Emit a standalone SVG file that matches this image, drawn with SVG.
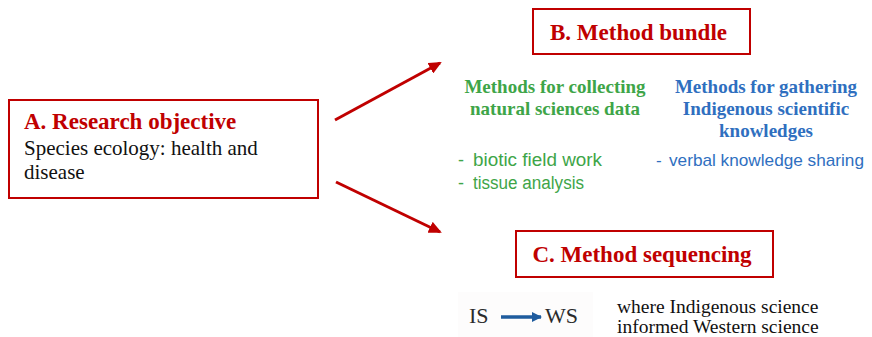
<svg xmlns="http://www.w3.org/2000/svg" width="872" height="337" viewBox="0 0 872 337">
<style>
.box{fill:#fff;stroke:#c00000;stroke-width:2}
.title{font-family:"Liberation Serif","Times New Roman",serif;font-weight:bold;fill:#c00000;font-size:23px}
.txt{font-family:"Liberation Serif","Times New Roman",serif;fill:#111;font-size:21px}
.gh{font-family:"Liberation Serif","Times New Roman",serif;font-weight:bold;fill:#3ea548;font-size:19px;text-anchor:middle}
.bh{font-family:"Liberation Serif","Times New Roman",serif;font-weight:bold;fill:#2f6fbf;font-size:19px;text-anchor:middle}
.gl{font-family:"Liberation Sans",Arial,sans-serif;fill:#3ea548;font-size:18px}
.bl{font-family:"Liberation Sans",Arial,sans-serif;fill:#2f6fbf;font-size:17px}
.note{font-family:"Liberation Serif","Times New Roman",serif;fill:#111;font-size:19.5px}
.seq{font-family:"Liberation Serif","Times New Roman",serif;fill:#2b2b2b;font-size:22px}
.conn{stroke:#c00000;stroke-width:3;fill:none}
</style>
<defs>
<marker id="ah" markerWidth="13" markerHeight="12" refX="11" refY="6" orient="auto" markerUnits="userSpaceOnUse" viewBox="0 0 13 12">
<path d="M0,0 L13,6 L0,12 z" fill="#c00000"/>
</marker>
<marker id="bh" viewBox="0 0 10 10" refX="9" refY="5" markerWidth="12" markerHeight="10" orient="auto" markerUnits="userSpaceOnUse">
<path d="M0,0 L10,5 L0,10 z" fill="#1f5c9e"/>
</marker>
</defs>
<rect width="872" height="337" fill="#fff"/>
<g id="nodeA">
<rect class="box" x="9" y="100" width="309" height="98"/>
<text class="title" x="24" y="129">A. Research objective</text>
<text class="txt" x="24" y="155">Species ecology: health and</text>
<text class="txt" x="24" y="179">disease</text>
</g>
<g id="nodeB">
<rect class="box" x="533" y="9" width="217" height="45"/>
<text class="title" x="638.5" y="40" text-anchor="middle">B. Method bundle</text>
</g>
<g id="bundle-natural">
<text class="gh" x="555" y="93">Methods for collecting</text>
<text class="gh" x="555" y="115">natural sciences data</text>
<text class="gl" x="458" y="166">-</text>
<text class="gl" x="473" y="166" textLength="129" lengthAdjust="spacingAndGlyphs">biotic field work</text>
<text class="gl" x="458" y="189">-</text>
<text class="gl" x="473" y="189" textLength="111" lengthAdjust="spacingAndGlyphs">tissue analysis</text>
</g>
<g id="bundle-indigenous">
<text class="bl" x="656" y="166" font-size="18">-</text>
<text class="bl" x="669" y="166" textLength="195" lengthAdjust="spacingAndGlyphs">verbal knowledge sharing</text>
<text class="bh" x="766" y="93">Methods for gathering</text>
<text class="bh" x="766" y="115">Indigenous scientific</text>
<text class="bh" x="766" y="137">knowledges</text>
</g>
<g id="nodeC">
<rect class="box" x="516" y="231" width="257" height="46"/>
<text class="title" x="642" y="262" text-anchor="middle">C. Method sequencing</text>
</g>
<g id="sequence">
<rect x="458" y="292" width="135" height="45" fill="#fdfcfc"/>
<text class="seq" x="469" y="323">IS</text>
<line x1="501" y1="317" x2="541" y2="317" stroke="#1f5c9e" stroke-width="3.5" marker-end="url(#bh)"/>
<text class="seq" x="545" y="323">WS</text>
<text class="note" x="617" y="313">where Indigenous science</text>
<text class="note" x="617" y="333">informed Western science</text>
</g>
<g id="connectors">
<line class="conn" x1="335" y1="120" x2="440" y2="63" marker-end="url(#ah)"/>
<line class="conn" x1="336" y1="182" x2="440" y2="232" marker-end="url(#ah)"/>
</g>
</svg>
